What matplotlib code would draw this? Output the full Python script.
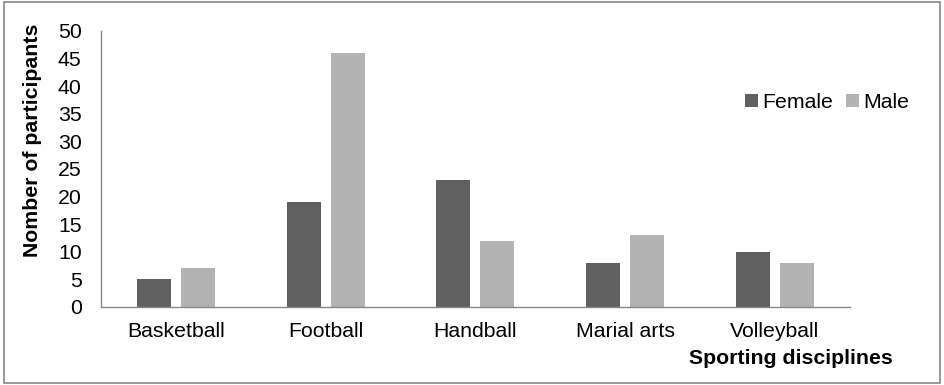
import matplotlib
matplotlib.use("Agg")
import matplotlib.pyplot as plt
import numpy as np

categories = ["Basketball", "Football", "Handball", "Marial arts", "Volleyball"]
female = [5, 19, 23, 8, 10]
male = [7, 46, 12, 13, 8]
yticks = [0, 5, 10, 15, 20, 25, 30, 35, 40, 45, 50]

plt.rcParams['font.family'] = ['Liberation Sans', 'DejaVu Sans']

fig = plt.figure(figsize=(9.44, 3.85), dpi=100)
ax = fig.add_axes([0.107, 0.2026, 0.793, 0.717])

x = np.arange(len(categories))
w = 0.227
off = 0.147
ax.bar(x - off, female, width=w, color="#606060", label="Female")
ax.bar(x + off, male, width=w, color="#b3b3b3", label="Male")

fs = 15.3
ax.set_xlim(-0.5, len(categories) - 0.5)
ax.set_ylim(0, 50)
ax.set_yticks(yticks)
ax.set_xticks(x)
ax.set_xticklabels(categories, fontsize=fs)
ax.tick_params(axis='both', length=0, labelsize=fs)
ax.tick_params(axis='x', pad=11)
ax.tick_params(axis='y', pad=14)
for s in ["top", "right"]:
    ax.spines[s].set_visible(False)
for s in ["left", "bottom"]:
    ax.spines[s].set_color("#888888")
    ax.spines[s].set_linewidth(1)

ax.set_ylabel("Nomber of participants", fontsize=fs, fontweight="bold")
ax.yaxis.set_label_coords(-0.079, 0.605)
fig.text(0.946, 0.07, "Sporting disciplines", fontsize=fs, fontweight="bold", ha="right", va="center")

leg = ax.legend(loc="center left", bbox_to_anchor=(0.835, 0.74), ncol=2, frameon=False,
                fontsize=fs, handlelength=0.6, handleheight=0.6, handletextpad=0.2,
                columnspacing=0.6)

border = plt.Rectangle((0.004, 0.006), 0.992, 0.988, transform=fig.transFigure,
                       fill=False, edgecolor="#888888", linewidth=1.2)
fig.patches.append(border)

fig.savefig("out.png", dpi=100)
